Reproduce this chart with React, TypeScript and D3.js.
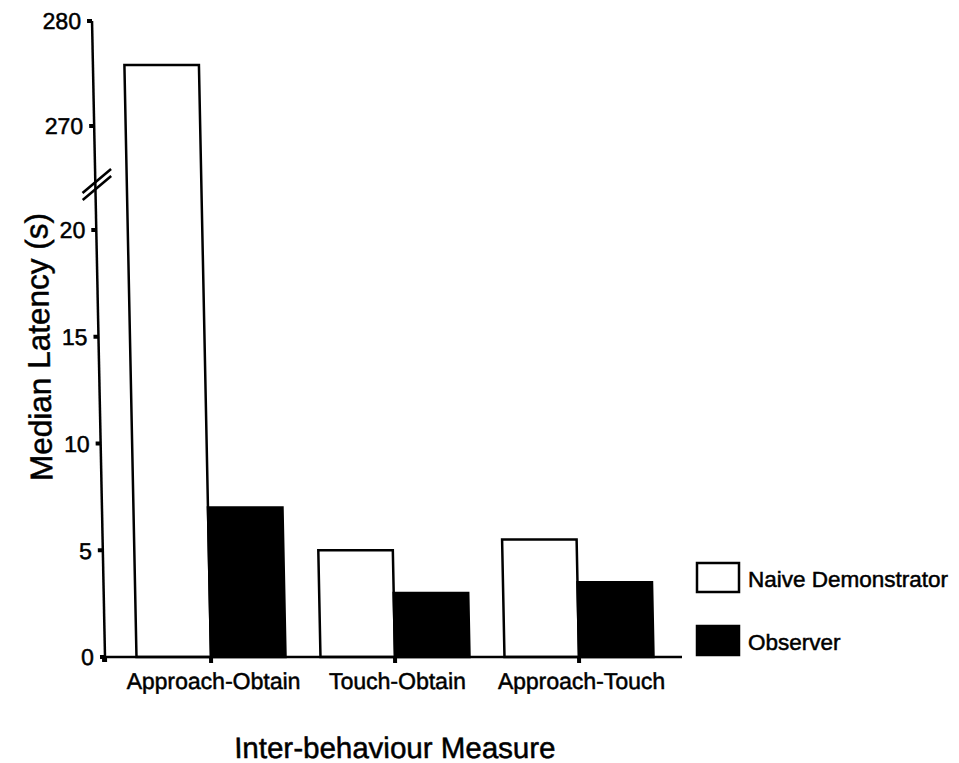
import React, { useEffect, useRef } from "react";
import * as d3 from "d3";

// data
const categories = ["Approach-Obtain", "Touch-Obtain", "Approach-Touch"];
const seriesNames = ["Naive Demonstrator", "Observer"];
const naiveValues = [275.8, 5, 5.5];
const observerValues = [7, 3, 3.5];
const lowTicks = [0, 5, 10, 15, 20];
const highTicks = [270, 280];

const App = () => {
  const svgRef = useRef<SVGSVGElement>(null);

  useEffect(() => {
    const w = 959;
    const h = 763;
    const font = "'Liberation Sans', Arial, sans-serif";
    const axisX = 105;
    const baseY = 657;
    // the scan is slightly sheared: verticals lean left towards the top
    const shear = 0.0204;
    const ink = 0.5; // scanned text looks a bit heavier

    const svg = d3.select(svgRef.current).attr("width", w).attr("height", h);
    svg.selectAll("*").remove();

    const g = svg
      .append("g")
      .attr(
        "transform",
        `translate(${-shear * baseY},0) skewX(${(Math.atan(shear) * 180) / Math.PI})`
      );

    // broken y axis: two linear pieces
    const yLow = d3.scaleLinear().domain([0, 20]).range([baseY, 230]);
    const yHigh = d3.scaleLinear().domain([270, 280]).range([126, 21]);
    const yOf = (v: number) => (v > 20 ? yHigh(v) : yLow(v));

    const x0 = d3
      .scaleBand()
      .domain(categories)
      .range([119, 671])
      .paddingInner(0.19)
      .paddingOuter(0.095);
    const x1 = d3.scaleBand().domain(seriesNames).range([0, x0.bandwidth()]);

    const rows = categories.map((c, i) => ({
      cat: c,
      vals: [
        { name: seriesNames[0], value: naiveValues[i] },
        { name: seriesNames[1], value: observerValues[i] },
      ],
    }));
    const fill = d3.scaleOrdinal<string>().domain(seriesNames).range(["#fff", "#000"]);

    // bars
    const groups = g
      .selectAll("g.grp")
      .data(rows)
      .join("g")
      .classed("grp", true)
      .attr("transform", (d) => `translate(${x0(d.cat)},0)`);

    groups
      .selectAll("rect")
      .data((d) => d.vals)
      .join("rect")
      .attr("x", (d) => x1(d.name)!)
      .attr("width", x1.bandwidth())
      .attr("y", (d) => yOf(d.value))
      .attr("height", (d) => baseY - yOf(d.value))
      .attr("fill", (d) => fill(d.name))
      .attr("stroke", "#000")
      .attr("stroke-width", 2.5);

    // y axis line
    g.append("line")
      .attr("x1", axisX)
      .attr("x2", axisX)
      .attr("y1", yHigh(280))
      .attr("y2", baseY)
      .attr("stroke", "#000")
      .attr("stroke-width", 2.5);

    // break marks
    [[193, 169], [200, 176]].forEach(([ya, yb]) => {
      g.append("line")
        .attr("x1", axisX - 13)
        .attr("y1", ya)
        .attr("x2", axisX + 16)
        .attr("y2", yb)
        .attr("stroke", "#000")
        .attr("stroke-width", 2.5);
    });

    // y ticks + labels
    const tickData = [
      ...lowTicks.map((t) => ({ t, y: yLow(t) })),
      ...highTicks.map((t) => ({ t, y: yHigh(t) })),
    ];
    g.selectAll("rect.ytick")
      .data(tickData)
      .join("rect")
      .classed("ytick", true)
      .attr("x", axisX - 5)
      .attr("y", (d) => d.y - 2)
      .attr("width", 5)
      .attr("height", 4)
      .attr("fill", "#000");
    g.selectAll("text.ylab")
      .data(tickData)
      .join("text")
      .classed("ylab", true)
      .attr("x", axisX - 11)
      .attr("y", (d) => d.y)
      .attr("dy", "0.36em")
      .attr("text-anchor", "end")
      .attr("font-family", font)
      .attr("font-size", 23)
      .attr("stroke", "#000")
      .attr("stroke-width", ink)
      .text((d) => d.t);

    // x axis line
    g.append("line")
      .attr("x1", axisX - 2)
      .attr("x2", 682)
      .attr("y1", baseY)
      .attr("y2", baseY)
      .attr("stroke", "#000")
      .attr("stroke-width", 2.5);
    g.append("rect")
      .attr("x", axisX - 3)
      .attr("y", baseY - 1)
      .attr("width", 5)
      .attr("height", 6)
      .attr("fill", "#000");

    // x ticks + category labels
    g.selectAll("rect.xtick")
      .data(categories)
      .join("rect")
      .classed("xtick", true)
      .attr("x", (d) => x0(d)! + x0.bandwidth() / 2 - 2)
      .attr("y", baseY)
      .attr("width", 4)
      .attr("height", 6)
      .attr("fill", "#000");
    g.selectAll("text.xlab")
      .data(categories)
      .join("text")
      .classed("xlab", true)
      .attr("x", (d) => x0(d)! + x0.bandwidth() / 2 + 2)
      .attr("y", 689)
      .attr("text-anchor", "middle")
      .attr("font-family", font)
      .attr("font-size", 23)
      .attr("stroke", "#000")
      .attr("stroke-width", ink)
      .text((d) => d);

    // axis titles
    g.append("text")
      .attr("x", 393)
      .attr("y", 758)
      .attr("text-anchor", "middle")
      .attr("font-family", font)
      .attr("font-size", 29.5)
      .attr("stroke", "#000")
      .attr("stroke-width", ink)
      .text("Inter-behaviour Measure");
    g.append("text")
      .attr("transform", `translate(56,347) rotate(-90)`)
      .attr("text-anchor", "middle")
      .attr("font-family", font)
      .attr("font-size", 31.5)
      .attr("stroke", "#000")
      .attr("stroke-width", ink)
      .text("Median Latency (s)");

    // legend
    const legend = svg
      .selectAll("g.leg")
      .data(seriesNames)
      .join("g")
      .classed("leg", true)
      .attr("transform", (d, i) => `translate(697,${563 + i * 63})`);
    legend
      .append("rect")
      .attr("width", 42)
      .attr("height", 29)
      .attr("fill", (d) => fill(d))
      .attr("stroke", "#000")
      .attr("stroke-width", 2.5);
    legend
      .append("text")
      .attr("x", 51)
      .attr("y", 24)
      .attr("font-family", font)
      .attr("font-size", 22.5)
      .attr("stroke", "#000")
      .attr("stroke-width", ink)
      .text((d) => d);
  }, []);

  return (
    <svg
      ref={svgRef}
      style={{ position: "absolute", left: 0, top: 0, background: "#fff" }}
    />
  );
};

export default App;
